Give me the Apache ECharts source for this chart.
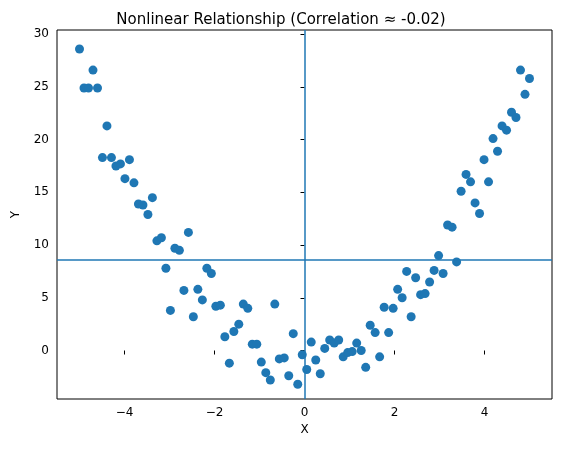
<!DOCTYPE html><html><head><meta charset="utf-8"><script src="https://cdn.jsdelivr.net/npm/echarts@6/dist/echarts.min.js"></script>
<style>body{margin:0}#c{width:562px;height:455px}</style></head><body><div id="c"></div><script>
const xs=[-5.0,-4.9,-4.8,-4.7,-4.6,-4.49,-4.39,-4.29,-4.19,-4.09,-3.99,-3.89,-3.79,-3.69,-3.59,-3.48,-3.38,-3.28,-3.18,-3.08,-2.98,-2.88,-2.78,-2.68,-2.58,-2.47,-2.37,-2.27,-2.17,-2.07,-1.97,-1.87,-1.77,-1.67,-1.57,-1.46,-1.36,-1.26,-1.16,-1.06,-0.96,-0.86,-0.76,-0.66,-0.56,-0.45,-0.35,-0.25,-0.15,-0.05,0.05,0.15,0.25,0.35,0.45,0.56,0.66,0.76,0.86,0.96,1.06,1.16,1.26,1.36,1.46,1.57,1.67,1.77,1.87,1.97,2.07,2.17,2.27,2.37,2.47,2.58,2.68,2.78,2.88,2.98,3.08,3.18,3.28,3.38,3.48,3.59,3.69,3.79,3.89,3.99,4.09,4.19,4.29,4.39,4.49,4.6,4.7,4.8,4.9,5.0];
const ys=[28.6,24.9,24.9,26.6,24.9,18.3,21.3,18.3,17.5,17.7,16.3,18.1,15.9,13.9,13.8,12.9,14.5,10.4,10.7,7.8,3.8,9.7,9.5,5.7,11.2,3.2,5.8,4.8,7.8,7.3,4.2,4.3,1.3,-1.2,1.8,2.5,4.4,4.0,0.6,0.6,-1.1,-2.1,-2.8,4.4,-0.8,-0.7,-2.4,1.6,-3.2,-0.4,-1.8,0.8,-0.9,-2.2,0.2,1.0,0.7,1.0,-0.6,-0.2,-0.1,0.7,0.0,-1.6,2.4,1.7,-0.6,4.1,1.7,4.0,5.8,5.0,7.5,3.2,6.9,5.3,5.4,6.5,7.6,9.0,7.3,11.9,11.7,8.4,15.1,16.7,16.0,14.0,13.0,18.1,16.0,20.1,18.9,21.3,20.9,22.6,22.1,26.6,24.3,25.8];
const meanY=8.6;
const xTicks=[-4,-2,0,2,4], yTicks=[0,5,10,15,20,25,30];
const c=echarts.init(document.getElementById('c'));
const F='DejaVu Sans';
c.setOption({animation:false,
title:{text:'Nonlinear Relationship (Correlation ≈ -0.02)',left:'center',top:8,textStyle:{fontFamily:F,fontSize:15,fontWeight:'normal',color:'#000'}},
grid:{left:57,right:10,top:30,bottom:56,show:true,borderColor:'#000',borderWidth:1},
xAxis:{type:'value',min:-5.5,max:5.5,name:'X',nameLocation:'middle',nameGap:25,nameTextStyle:{fontFamily:F,fontSize:12,color:'#000'},
 axisLine:{show:false},splitLine:{show:false},axisTick:{show:true,length:4,lineStyle:{color:'#000'},customValues:xTicks},
 axisLabel:{customValues:xTicks,fontFamily:F,fontSize:12,color:'#000',formatter:v=>String(v).replace('-','−')}},
yAxis:{type:'value',min:-4.6,max:30.4,name:'Y',nameLocation:'middle',nameGap:35,nameTextStyle:{fontFamily:F,fontSize:12,color:'#000'},
 axisLine:{show:false},splitLine:{show:false},axisTick:{show:true,length:4,lineStyle:{color:'#000'},customValues:yTicks},
 axisLabel:{customValues:yTicks,fontFamily:F,fontSize:12,color:'#000'}},
series:[{type:'scatter',symbolSize:9,itemStyle:{color:'#1f77b4',opacity:1},data:xs.map((x,i)=>[x,ys[i]]),
 markLine:{silent:true,symbol:'none',label:{show:false},lineStyle:{color:'#1f77b4',width:1.5,type:'solid'},data:[{yAxis:meanY},{xAxis:0}]}}]});
</script></body></html>
